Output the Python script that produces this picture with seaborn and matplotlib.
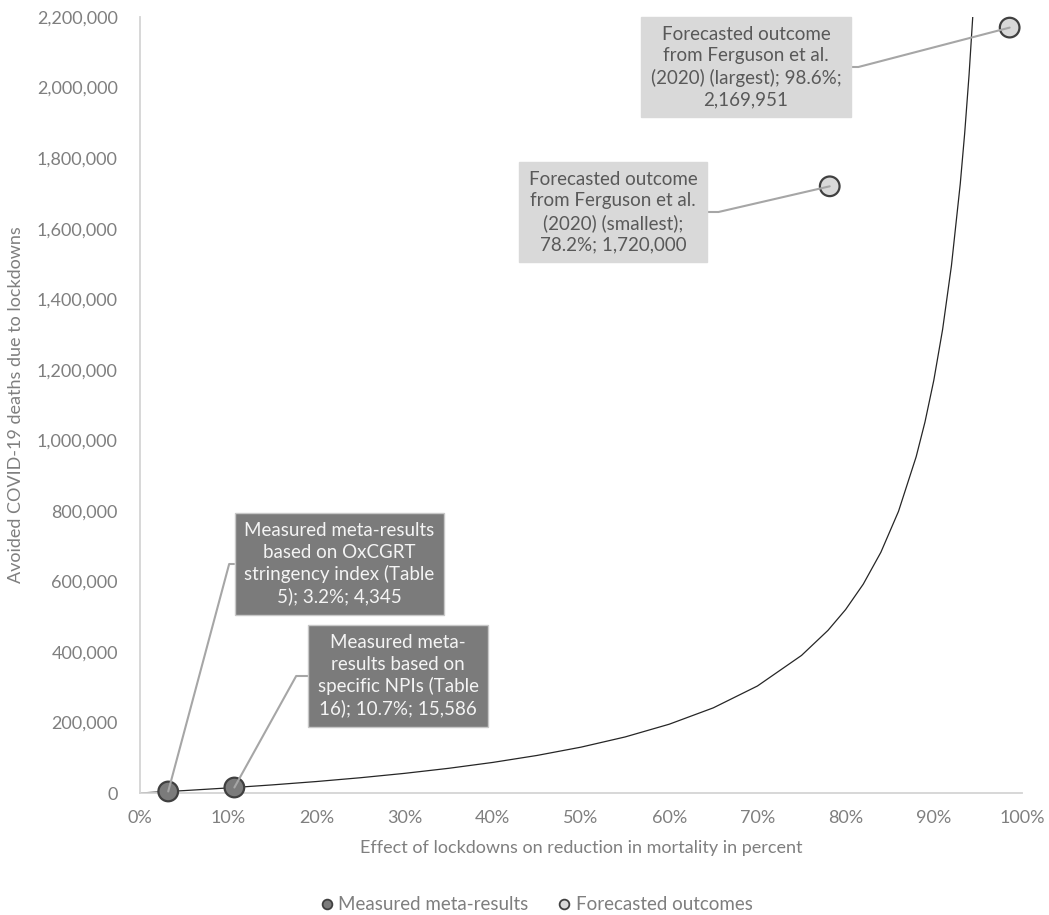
import pandas as pd
import matplotlib.pyplot as plt
import seaborn as sns
from matplotlib.lines import Line2D
from matplotlib.ticker import FuncFormatter

# curve: avoided deaths for a given lockdown effect
curve_effect = [0.0, 0.05, 0.10, 0.15, 0.20, 0.25, 0.30, 0.35, 0.40, 0.45, 0.50,
                0.55, 0.60, 0.65, 0.70, 0.75, 0.78, 0.80, 0.82, 0.84, 0.86, 0.88,
                0.89, 0.90, 0.91, 0.92, 0.93, 0.935, 0.94, 0.945]
curve_deaths = [0, 6800, 14400, 23000, 32500, 43300, 55700, 70000, 86700, 106400, 130000,
                158900, 195000, 241400, 303300, 390000, 461000, 520000, 592000, 682500,
                798600, 953300, 1051800, 1170000, 1314400, 1495000, 1727000, 1870000,
                2036700, 2233600]

# marked results
point_effect = [0.032, 0.107, 0.782, 0.986]
point_deaths = [4345, 15586, 1720000, 2169951]
point_group = ['Measured meta-results', 'Measured meta-results',
               'Forecasted outcomes', 'Forecasted outcomes']
point_text = [
    'Measured meta-results\nbased on OxCGRT\nstringency index (Table\n5); 3.2%; 4,345',
    'Measured meta-\nresults based on\nspecific NPIs (Table\n16); 10.7%; 15,586',
    'Forecasted outcome\nfrom Ferguson et al.\n(2020) (smallest);\n78.2%; 1,720,000',
    'Forecasted outcome\nfrom Ferguson et al.\n(2020) (largest); 98.6%;\n2,169,951',
]

curve_df = pd.DataFrame({'effect': curve_effect, 'deaths': curve_deaths})
points_df = pd.DataFrame({'effect': point_effect, 'deaths': point_deaths, 'group': point_group})

sns.set_style('white')
plt.rcParams['font.family'] = ['Lato', 'DejaVu Sans']

grey_txt = '#7f7f7f'
fills = {'Measured meta-results': '#7b7b7b', 'Forecasted outcomes': '#d9d9d9'}

fig = plt.figure(figsize=(10.49, 9.15), dpi=100)
ax = fig.add_axes([140 / 1049, 1 - 793 / 915, 882 / 1049, 776 / 915])

sns.lineplot(data=curve_df, x='effect', y='deaths', color='#262626', linewidth=0.9, ax=ax)
sns.scatterplot(data=points_df, x='effect', y='deaths', hue='group', palette=fills,
                s=200, edgecolor='#404040', linewidth=1.6, legend=False, zorder=3,
                clip_on=False, ax=ax)

ax.set_xlim(0, 1)
ax.set_ylim(0, 2200000)
ax.set_xticks([i / 10 for i in range(11)])
ax.set_yticks(range(0, 2200001, 200000))
ax.xaxis.set_major_formatter(FuncFormatter(lambda v, p: f'{v * 100:.0f}%'))
ax.yaxis.set_major_formatter(FuncFormatter(lambda v, p: f'{v:,.0f}'))
ax.tick_params(axis='both', length=0, labelsize=13, labelcolor=grey_txt)
ax.tick_params(axis='x', pad=12)
ax.tick_params(axis='y', pad=16)

for side in ['top', 'right']:
    ax.spines[side].set_visible(False)
for side in ['left', 'bottom']:
    ax.spines[side].set_color('#d4d4d4')
    ax.spines[side].set_linewidth(1.3)

ax.set_xlabel('Effect of lockdowns on reduction in mortality in percent', fontsize=13, color=grey_txt)
ax.set_ylabel('Avoided COVID-19 deaths due to lockdowns', fontsize=13, color=grey_txt)
ax.xaxis.set_label_coords(0.5, -0.061)
ax.yaxis.set_label_coords(-0.131, 0.5)

# callout boxes (figure pixels) and leader angles
box_pos = [(339, 351), (398, 239), (613, 703), (746, 848)]
box_side = [(0, 0.5), (0, 0.5), (1, 0.5), (1, 0.5)]
leader_angle = [75, 61, 13, 14.6]
for i in range(4):
    dark = point_group[i] == 'Measured meta-results'
    ax.annotate(point_text[i], xy=(point_effect[i], point_deaths[i]), xycoords='data',
                xytext=box_pos[i], textcoords='figure pixels',
                ha='center', va='center', fontsize=13.5, linespacing=1.3,
                color='#f4f4f4' if dark else '#595959',
                bbox=dict(boxstyle='square,pad=0.5', fc='#7b7b7b' if dark else '#d9d9d9',
                          ec='#c8c8c8' if dark else '#d9d9d9', lw=1),
                arrowprops=dict(arrowstyle='-', color='#a6a6a6', lw=1.5,
                                shrinkA=0, shrinkB=0, relpos=box_side[i],
                                connectionstyle=f'angle,angleA=0,angleB={leader_angle[i]},rad=0'),
                zorder=4)

handles = [Line2D([], [], marker='o', linestyle='none', markersize=7,
                  markerfacecolor=fills[g], markeredgecolor='#404040', markeredgewidth=1.3, label=g)
           for g in ['Measured meta-results', 'Forecasted outcomes']]
fig.legend(handles=handles, loc='center', bbox_to_anchor=(537 / 1049, 1 - 905 / 915),
           ncol=2, frameon=False, fontsize=13.5, labelcolor=grey_txt,
           handlelength=0.6, handletextpad=0.3, columnspacing=1.6)

fig.savefig('out.png', dpi=100)
